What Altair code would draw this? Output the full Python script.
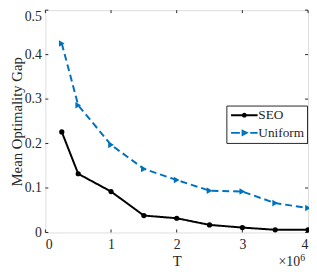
import altair as alt
import pandas as pd

# ---- data ----
T_values = [250000, 500000, 1000000, 1500000, 2000000, 2500000, 3000000, 3500000, 4000000]
seo_gap = [0.226, 0.132, 0.092, 0.038, 0.032, 0.017, 0.011, 0.006, 0.006]
uniform_gap = [0.425, 0.286, 0.197, 0.143, 0.118, 0.094, 0.092, 0.066, 0.055]
series_names = ["SEO", "Uniform"]
x_ticks = [0, 1000000, 2000000, 3000000, 4000000]
y_ticks = [0, 0.1, 0.2, 0.3, 0.4, 0.5]

df = pd.DataFrame(
    {"T": T_values * 2,
     "gap": seo_gap + uniform_gap,
     "series": ["SEO"] * len(T_values) + ["Uniform"] * len(T_values)}
)
xt = pd.DataFrame({"T": x_ticks})
yt = pd.DataFrame({"gap": y_ticks})

W, H = 267, 226
PAD_L, PAD_B = 38, 37
FONT = "Liberation Serif"
AX = "#262626"
BLUE = "#0072BD"
colors = ["#000000", BLUE]

xscale = alt.Scale(domain=[0, 4000000], nice=False, zero=False)
yscale = alt.Scale(domain=[0, 0.5], nice=False, zero=False)

xaxis = alt.Axis(values=x_ticks, labelExpr="datum.value / 1000000", title="T",
                 ticks=False, domain=False, grid=False,
                 labelBaseline="alphabetic", labelPadding=16,
                 titleBaseline="alphabetic", titleY=33.5, titleX=W / 2,
                 labelFont=FONT, titleFont=FONT, labelFontSize=14,
                 titleFontSize=15, titleFontWeight="normal", labelColor=AX, titleColor=AX)
yaxis = alt.Axis(values=y_ticks,
                 labelExpr="datum.value == 0 ? '0' : format(datum.value, '.1f')",
                 labelBaseline={"condition": {"test": "datum.value >= 0.5", "value": "top"},
                                "value": "middle"},
                 title="Mean Optimality Gap", ticks=False, domain=False, grid=False,
                 labelPadding=4, labelFont=FONT, titleFont=FONT,
                 labelFontSize=14, titleFontSize=15, titleFontWeight="normal",
                 titleBaseline="alphabetic", titleX=-24.5, titleY=H / 2, titleAngle=270,
                 labelColor=AX, titleColor=AX)

X = alt.X("T:Q", scale=xscale, axis=xaxis)
Y = alt.Y("gap:Q", scale=yscale, axis=yaxis)

base = alt.Chart(df)

lines = base.mark_line(strokeWidth=2).encode(
    x=X, y=Y,
    color=alt.Color("series:N", scale=alt.Scale(domain=series_names, range=colors), legend=None),
    strokeDash=alt.StrokeDash("series:N",
                              scale=alt.Scale(domain=series_names, range=[[1, 0], [7, 4]]),
                              legend=None),
)

pts_seo = base.transform_filter("datum.series == 'SEO'").mark_point(
    shape="circle", filled=True, size=28, opacity=1, color="#000000"
).encode(x=X, y=Y)

pts_uni = base.transform_filter("datum.series == 'Uniform'").mark_point(
    shape="triangle-right", filled=True, size=45, opacity=1, color=BLUE
).encode(x=X, y=Y)

# legend layer (no data drawn, only legend from explicit scale domain)
seo_sym = "M-2.7,0L2.7,0M-0.3,0A0.3,0.3,0,1,0,0.3,0A0.3,0.3,0,1,0,-0.3,0Z"
uni_sym = "M-2.7,0L-0.9,0M1.2,0L2.7,0M-0.35,-0.4L0.45,0L-0.35,0.4Z"
leg = alt.Legend(title=None, orient="none", legendX=184, legendY=97,
                 strokeColor=AX, fillColor="white", padding=3, cornerRadius=0,
                 symbolSize=100, symbolOffset=8.5, labelOffset=7.5, symbolStrokeWidth=2,
                 labelFont=FONT, labelFontSize=13.5, labelColor=AX, rowPadding=3,
                 symbolOpacity=1)
legend_layer = base.transform_filter("false").mark_point(filled=False, opacity=1, strokeWidth=2).encode(
    x=X, y=Y,
    color=alt.Color("series:N", scale=alt.Scale(domain=series_names, range=colors), legend=leg),
    shape=alt.Shape("series:N", scale=alt.Scale(domain=series_names, range=[seo_sym, uni_sym]), legend=leg),
)

# inward ticks on all four sides
tb = alt.Chart(xt).mark_rule(color=AX, strokeWidth=1).encode(x=X, y=alt.value(H), y2=alt.value(H - 3))
tt = alt.Chart(xt).mark_rule(color=AX, strokeWidth=1).encode(x=X, y=alt.value(0), y2=alt.value(3))
tl = alt.Chart(yt).mark_rule(color=AX, strokeWidth=1).encode(y=Y, x=alt.value(0), x2=alt.value(3))
tr = alt.Chart(yt).mark_rule(color=AX, strokeWidth=1).encode(y=Y, x=alt.value(W), x2=alt.value(W - 3))

one = alt.Data(values=[{}])
exp_base = alt.Chart(one).mark_text(text="×10", font=FONT, fontSize=14, align="left",
                                    baseline="alphabetic", color=AX).encode(
    x=alt.value(237), y=alt.value(260))
exp_pow = alt.Chart(one).mark_text(text="6", font=FONT, fontSize=10, align="left",
                                   baseline="alphabetic", color=AX).encode(
    x=alt.value(259), y=alt.value(255))

chart = alt.layer(lines, tb, tt, tl, tr, pts_seo, pts_uni, legend_layer, exp_base, exp_pow).resolve_scale(
    color="independent", shape="independent"
).properties(
    width=W, height=H, autosize="none",
    padding={"left": PAD_L, "top": 0, "right": 1, "bottom": PAD_B},
).configure_view(stroke=AX, strokeWidth=1).configure(background="white")

chart.save("out.html", embed_options={"renderer": "svg", "actions": False})
